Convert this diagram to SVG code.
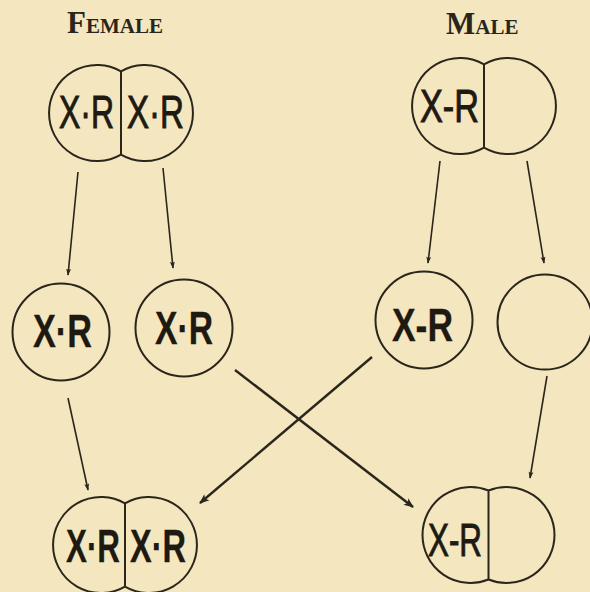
<svg xmlns="http://www.w3.org/2000/svg" width="590" height="592" viewBox="0 0 590 592">
<style>
.cell{fill:none;stroke:#2b261c;stroke-width:2}
.lbl{font-family:"Liberation Sans","DejaVu Sans",sans-serif;font-size:46px;fill:#1e1a12;stroke:#1e1a12;stroke-width:1}
.b{font-weight:bold;stroke-width:0.3}
.title{font-family:"Liberation Serif","DejaVu Serif",serif;font-weight:bold;fill:#2a251b}
.arr{stroke:#2b261c;stroke-width:1.6;fill:none;marker-end:url(#ah)}
.arr2{stroke:#2b261c;stroke-width:2.4;fill:none;marker-end:url(#ah2)}
</style>
<defs>
<marker id="ah" viewBox="0 0 10 10" refX="9" refY="5" markerWidth="7" markerHeight="7" orient="auto" markerUnits="userSpaceOnUse">
<path d="M0,1.5 L10,5 L0,8.5 L2,5 Z" fill="#2b261c"/>
</marker>
<marker id="ah2" viewBox="0 0 10 10" refX="9" refY="5" markerWidth="14" markerHeight="10" orient="auto" markerUnits="userSpaceOnUse">
<path d="M0,1 L10,5 L0,9 L2.5,5 Z" fill="#2b261c"/>
</marker>
</defs>
<rect width="590" height="592" fill="#f4e6bf"/>
<g id="titles">
<text class="title" x="67" y="33"><tspan font-size="31">F</tspan><tspan font-size="21">EMALE</tspan></text>
<text class="title" x="446" y="34"><tspan font-size="31">M</tspan><tspan font-size="21">ALE</tspan></text>
</g>
<g id="female-parent">
<path class="cell" d="M121,71.4 A48,48 0 1,0 121,154.6 A48,48 0 1,0 121,71.4 Z M121,71.4 L121,154.6"/>
<text class="lbl" transform="translate(59,128) scale(0.694,1)">X·R</text>
<text class="lbl" transform="translate(127,128) scale(0.72,1)">X·R</text>
</g>
<g id="male-parent">
<path class="cell" d="M484,64.4 A48,48 0 1,0 484,147.6 A48,48 0 1,0 484,64.4 Z M484,64.4 L484,147.6"/>
<text class="lbl" transform="translate(420,122) scale(0.745,1)">X-R</text>
</g>
<g id="female-gamete-1">
<circle class="cell" cx="61" cy="332" r="48.5"/>
<text class="lbl b" transform="translate(33,347) scale(0.745,1)">X·R</text>
</g>
<g id="female-gamete-2">
<circle class="cell" cx="184" cy="328" r="48.5"/>
<text class="lbl b" transform="translate(155,344) scale(0.732,1)">X·R</text>
</g>
<g id="male-gamete-1">
<circle class="cell" cx="424" cy="320" r="48.5"/>
<text class="lbl b" transform="translate(392,341) scale(0.77,1)">X-R</text>
</g>
<g id="male-gamete-2">
<circle class="cell" cx="545" cy="322" r="47.5"/>
</g>
<g id="female-offspring">
<path class="cell" d="M125,503.4 A48,48 0 1,0 125,586.6 A48,48 0 1,0 125,503.4 Z M125,503.4 L125,586.6"/>
<text class="lbl b" transform="translate(66,562) scale(0.682,1)">X·R</text>
<text class="lbl b" transform="translate(130,562) scale(0.707,1)">X·R</text>
</g>
<g id="male-offspring">
<path class="cell" d="M488.5,490.5 A48,48 0 1,0 488.5,579.5 A48,48 0 1,0 488.5,490.5 Z M488.5,490.5 L488.5,579.5"/>
<text class="lbl" transform="translate(428,556) scale(0.682,1)">X-R</text>
</g>
<g id="connectors">
<line class="arr" x1="78" y1="172" x2="68" y2="275"/>
<line class="arr" x1="163" y1="168" x2="173" y2="268"/>
<line class="arr" x1="440" y1="161" x2="428" y2="263"/>
<line class="arr" x1="527" y1="161" x2="544" y2="263"/>
<line class="arr" x1="68" y1="398" x2="88" y2="490"/>
<line class="arr" x1="547" y1="376" x2="530" y2="478"/>
<line class="arr2" x1="372" y1="357" x2="200" y2="503"/>
<line class="arr2" x1="235" y1="370" x2="413" y2="507"/>
</g>
</svg>
